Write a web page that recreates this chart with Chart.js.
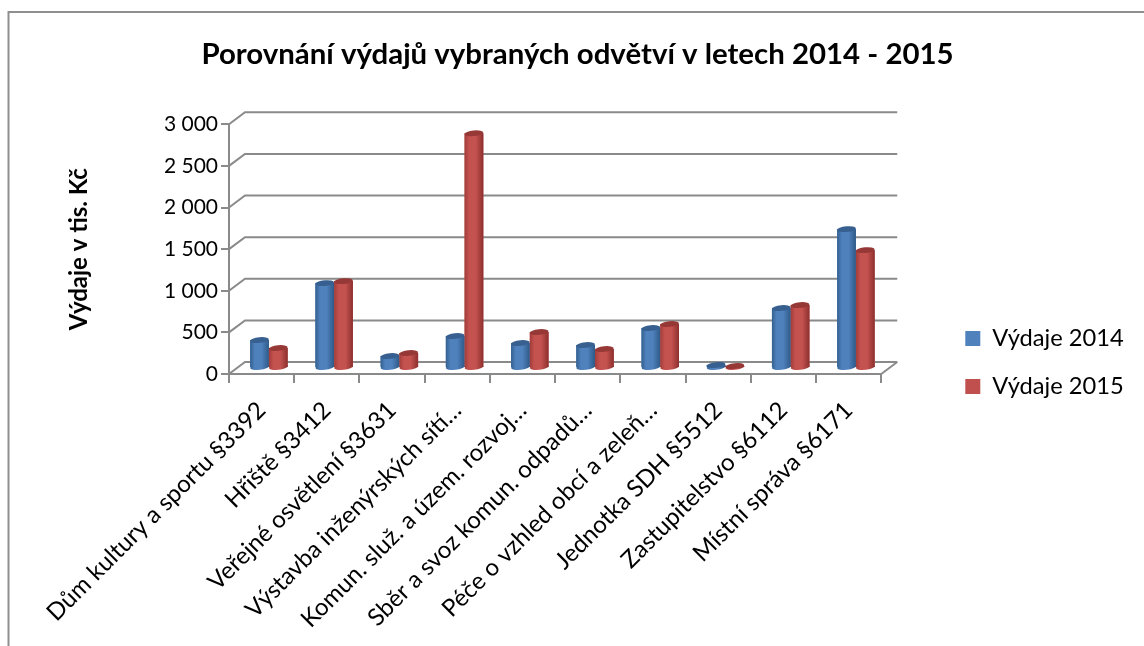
<!DOCTYPE html>
<html lang="cs">
<head>
<meta charset="utf-8">
<title>Porovnání výdajů</title>
<script src="https://cdn.jsdelivr.net/npm/chart.js@4"></script>
<style>
html,body{margin:0;padding:0;background:#fff;}
canvas{display:block;}
</style>
</head>
<body>
<canvas id="c" width="1144" height="646"></canvas>
<script>
const categories = [
  "Dům kultury a sportu §3392",
  "Hřiště §3412",
  "Veřejné osvětlení §3631",
  "Výstavba inženýrských sítí…",
  "Komun. služ. a územ. rozvoj…",
  "Sběr a svoz komun. odpadů…",
  "Péče o vzhled obcí a zeleň…",
  "Jednotka SDH §5512",
  "Zastupitelstvo §6112",
  "Místní správa §6171"
];
const vydaje2014 = [336, 1020, 144, 384, 300, 276, 480, 36, 720, 1668];
const vydaje2015 = [240, 1044, 180, 2820, 432, 228, 528, 24, 756, 1416];
const seriesNames = ["Výdaje 2014", "Výdaje 2015"];
const chartTitle = "Porovnání výdajů vybraných odvětví v letech 2014 - 2015";
const axisTitle = "Výdaje v tis. Kč";

const FONT = "Lato, Carlito, Calibri, sans-serif";
const AXIS = "#8a8a8a";
const TEXT = "#000000";
const WALL = {dx: 16, dy: -12};
const BAR = {dx: 7.3, dy: -6, ry: 2.8, tilt: -0.1};
const shades = [
  {edgeL:"#33608f", mid:"#4f81bd", edgeR:"#2f5a88", cap:"#375f8f"},
  {edgeL:"#a23d3a", mid:"#c4524f", edgeR:"#8c302e", cap:"#963835"}
];

const scenery = {
  id: "scenery",
  beforeDraw(chart) {
    const c = chart.ctx;
    c.save();
    c.fillStyle = "#fff";
    c.fillRect(0, 0, chart.width, chart.height);
    c.strokeStyle = "#8f8f8f";
    c.lineWidth = 2;
    c.beginPath();
    c.moveTo(8.5, chart.height);
    c.lineTo(8.5, 12);
    c.lineTo(chart.width, 12);
    c.stroke();
    c.restore();
  },
  afterLayout(chart) {
    const l = chart.legend;
    const w = l.width, h = l.height;
    l.left = 941; l.right = l.left + w;
    l.top = 362.5 - h / 2; l.bottom = l.top + h;
    const t = chart.titleBlock;
    t.left = 0; t.right = 1155;
  },
  beforeDatasetsDraw(chart) {
    const c = chart.ctx, y = chart.scales.y, a = chart.chartArea;
    c.save();
    c.strokeStyle = AXIS;
    c.lineWidth = 2;
    y.ticks.forEach(t => {
      const py = y.getPixelForValue(t.value);
      c.beginPath();
      c.moveTo(a.left, py);
      c.lineTo(a.left + WALL.dx, py + WALL.dy);
      c.lineTo(a.right + WALL.dx, py + WALL.dy);
      c.stroke();
    });
    c.beginPath();
    c.moveTo(a.right, a.bottom);
    c.lineTo(a.right + WALL.dx, a.bottom + WALL.dy);
    c.stroke();
    c.restore();
    c.save();
    c.translate(BAR.dx, BAR.dy);
  },
  afterDatasetsDraw(chart) {
    const c = chart.ctx;
    chart.data.datasets.forEach((ds, i) => {
      const s = shades[i];
      chart.getDatasetMeta(i).data.forEach(bar => {
        const {x, y, base, width} = bar.getProps(["x", "y", "base", "width"], true);
        const rx = width / 2, x0 = x - rx;
        const g = c.createLinearGradient(x0, 0, x0 + width, 0);
        g.addColorStop(0, s.edgeL);
        g.addColorStop(0.25, s.mid);
        g.addColorStop(0.6, s.mid);
        g.addColorStop(1, s.edgeR);
        c.fillStyle = g;
        c.beginPath();
        c.ellipse(x, base, rx, BAR.ry, BAR.tilt, 0, Math.PI * 2);
        c.fill();
        c.fillRect(x0, y, width, base - y);
        c.fillStyle = s.cap;
        c.beginPath();
        c.ellipse(x, y, rx, BAR.ry, BAR.tilt, 0, Math.PI * 2);
        c.fill();
      });
    });
    c.restore();
  }
};

new Chart(document.getElementById("c"), {
  type: "bar",
  data: {
    labels: categories,
    datasets: [
      {label: seriesNames[0], data: vydaje2014, backgroundColor: "#4f81bd", borderWidth: 0},
      {label: seriesNames[1], data: vydaje2015, backgroundColor: "#c0504d", borderWidth: 0}
    ]
  },
  options: {
    responsive: false,
    animation: false,
    devicePixelRatio: 1,
    layout: {padding: {left: 0, right: 70, top: 0, bottom: 0}},
    datasets: {bar: {categoryPercentage: 0.575, barPercentage: 1}},
    plugins: {
      tooltip: {enabled: false},
      title: {
        display: true,
        text: chartTitle,
        color: TEXT,
        font: {family: FONT, size: 29.4, weight: "bold", lineHeight: 1.2},
        padding: {top: 37, bottom: 52}
      },
      legend: {
        position: "right",
        align: "center",
        labels: {
          color: TEXT,
          boxWidth: 15,
          boxHeight: 15,
          padding: 24.3,
          font: {family: FONT, size: 23.7}
        }
      }
    },
    scales: {
      x: {
        grid: {drawOnChartArea: false, drawTicks: true, tickLength: 9, color: AXIS, lineWidth: 2},
        border: {color: AXIS, width: 2},
        ticks: {
          color: TEXT, autoSkip: false, maxRotation: 45, minRotation: 45, padding: 13,
          font: {family: FONT, size: 24}
        },
        afterFit(s) { s.height = 272; }
      },
      y: {
        min: 0, max: 3000,
        grid: {drawOnChartArea: false, drawTicks: true, tickLength: 8, color: AXIS, lineWidth: 2},
        border: {color: AXIS, width: 2},
        ticks: {
          stepSize: 500, color: TEXT, padding: 3,
          font: {family: FONT, size: 21},
          callback: v => String(v).replace(/\B(?=(\d{3})+$)/g, " ")
        },
        title: {
          display: true, text: axisTitle, color: TEXT, padding: {top: 65, bottom: 0},
          font: {family: FONT, size: 24, weight: "bold", lineHeight: 1.2}
        },
        afterFit(s) { s.width = 229; }
      }
    }
  },
  plugins: [scenery]
});
</script>
</body>
</html>
